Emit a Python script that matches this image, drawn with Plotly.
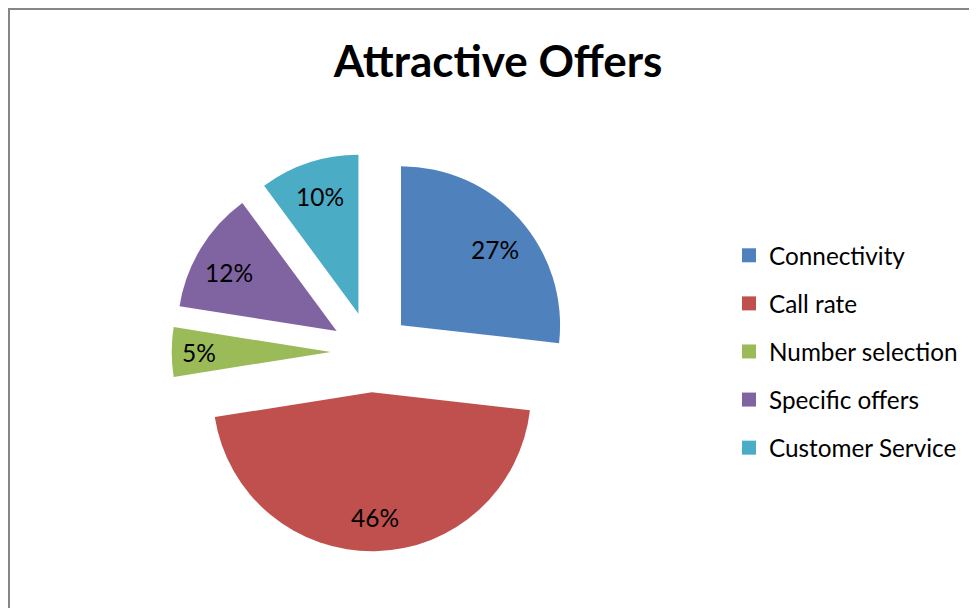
import math
import plotly.graph_objects as go

# The page body has an 8px margin, so the figure sits at (8,8) in the window.
W, H = 969, 600

categories = ["Connectivity", "Call rate", "Number selection", "Specific offers", "Customer Service"]
values = [26.8, 45.7, 5.0, 12.4, 10.1]   # percent shares (labels show rounded values)
colors = ["#4F81BD", "#C0504D", "#9BBB59", "#8064A2", "#4BACC6"]
title_text = "Attractive Offers"

FONT = "Lato, Carlito, Calibri, sans-serif"
PULL = 0.253
# radial position of each percent label, as a fraction of the radius from the slice apex
LABEL_FRAC = [0.76, 0.79, 0.83, 0.77, 0.775]
# small angular offset (degrees) of each label from the slice bisector
LABEL_ANGLE = [3.0, 0.0, 0.0, -3.0, 0.0]

fig = go.Figure()

cx, cy, half = 363, 344, 199.3
fig.add_trace(go.Pie(
    labels=categories,
    values=values,
    sort=False,
    direction="clockwise",
    rotation=0,
    pull=[PULL] * len(values),
    marker=dict(colors=colors, line=dict(width=0)),
    textinfo="none",
    showlegend=False,
    hoverinfo="label+percent",
    domain=dict(x=[(cx - half) / W, (cx + half) / W],
                y=[1 - (cy + half) / H, 1 - (cy - half) / H]),
))

# Percent labels placed along each slice's bisector (computed from values)
r = half / (1 + PULL)
total = sum(values)
annotations = []
cum = 0
for v, frac, dang in zip(values, LABEL_FRAC, LABEL_ANGLE):
    mid = (cum + v / 2) / total * 2 * math.pi
    cum += v
    ax = cx + PULL * r * math.sin(mid)
    ay = cy - PULL * r * math.cos(mid)
    a = mid + math.radians(dang)
    px = ax + frac * r * math.sin(a)
    py = ay - frac * r * math.cos(a)
    annotations.append(dict(
        x=px / W, y=1 - py / H, xref="paper", yref="paper",
        text=f"{round(v / total * 100)}%", showarrow=False,
        xanchor="center", yanchor="middle",
        font=dict(family=FONT, size=24.5, color="black"),
    ))

# Legend entries (one per category, separate groups for spacing)
for name, col in zip(categories, colors):
    fig.add_trace(go.Scatter(
        x=[None], y=[None], mode="markers", name=name,
        marker=dict(symbol="square", size=14, color=col),
        legendgroup=name, showlegend=True, hoverinfo="skip",
    ))

fig.update_layout(
    width=W, height=H,
    margin=dict(l=0, r=0, t=0, b=0),
    paper_bgcolor="white",
    plot_bgcolor="white",
    xaxis=dict(visible=False),
    yaxis=dict(visible=False),
    title=dict(text="<b>" + title_text + "</b>", x=490 / W, xanchor="center",
               y=1 - 54 / H, yanchor="middle", yref="container",
               font=dict(family=FONT, size=44, color="black")),
    legend=dict(x=721 / W, xanchor="left", y=1 - 225 / H, yanchor="top",
                font=dict(family=FONT, size=24.3, color="black"),
                tracegroupgap=13.5, bgcolor="rgba(0,0,0,0)"),
    annotations=annotations,
    shapes=[dict(type="rect", xref="paper", yref="paper",
                 x0=1 / W, x1=1.2, y0=-0.2, y1=1 - 1 / H,
                 line=dict(color="#868686", width=2), fillcolor="rgba(0,0,0,0)")],
)

fig.write_html("out.html")
